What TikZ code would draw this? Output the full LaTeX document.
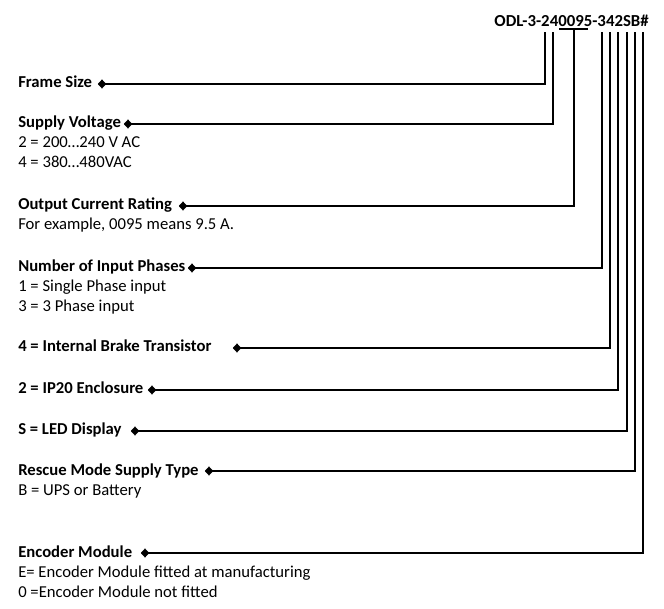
\documentclass[tikz,border=0pt]{standalone}
\usepackage{fontspec}
\setmainfont{Carlito}
\usetikzlibrary{shapes.geometric}
\tikzset{
  lbl/.style={anchor=base west, inner sep=0pt, font=\fontsize{12.5}{15}\selectfont\bfseries},
  txt/.style={anchor=base west, inner sep=0pt, font=\fontsize{12.5}{15}\selectfont},
  code/.style={anchor=base east, inner sep=0pt, font=\fontsize{12.6}{15}\selectfont\bfseries},
  dot/.style={diamond, fill=black, inner sep=0pt, minimum width=6.5pt, minimum height=7pt},
  lead/.style={draw=black, line width=0.8pt},
}
\begin{document}
\begin{tikzpicture}[x=0.75pt, y=-0.75pt]
\useasboundingbox (0,0) rectangle (664,609);
% code
\node[code] (code) at (649,27) {ODL-3-240095-342SB\#};
% tops of leaders
\coordinate (t1) at (545,32);
\coordinate (t2) at (553,32);
\coordinate (t3) at (574,29);
\coordinate (t4) at (602,32);
\coordinate (t5) at (610,32);
\coordinate (t6) at (618,32);
\coordinate (t7) at (627,32);
\coordinate (t8) at (635,32);
\coordinate (t9) at (643,32);
\coordinate (u1) at (559,29);
\coordinate (u2) at (588,29);
\draw[lead] (u1) -- (u2);
% labels
\node[lbl] (l1) at (18,88) {Frame Size};
\node[lbl] (l2) at (18,128) {Supply Voltage};
\node[txt] (l2a) at (18,148) {2 = 200…240 V AC};
\node[txt] (l2b) at (18,168) {4 = 380…480VAC};
\node[lbl] (l3) at (18,210) {Output Current Rating};
\node[txt] (l3a) at (18,230) {For example, 0095 means 9.5 A.};
\node[lbl] (l4) at (18,272) {Number of Input Phases};
\node[txt] (l4a) at (18,292) {1 = Single Phase input};
\node[txt] (l4b) at (18,312) {3 = 3 Phase input};
\node[lbl] (l5) at (18,352) {4 = Internal Brake Transistor};
\node[lbl] (l6) at (18,394) {2 = IP20 Enclosure};
\node[lbl] (l7) at (18,435) {S = LED Display};
\node[lbl] (l8) at (18,475) {Rescue Mode Supply Type};
\node[txt] (l8a) at (18,495) {B = UPS or Battery};
\node[lbl] (l9) at (18,557) {Encoder Module};
\node[txt] (l9a) at (18,577) {E= Encoder Module fitted at manufacturing};
\node[txt] (l9b) at (18,597) {0 =Encoder Module not fitted};
% diamonds
\node[dot] (d1) at (102,84) {};
\node[dot] (d2) at (128,124) {};
\node[dot] (d3) at (183,206) {};
\node[dot] (d4) at (192,268) {};
\node[dot] (d5) at (237,348) {};
\node[dot] (d6) at (152,390) {};
\node[dot] (d7) at (135,431) {};
\node[dot] (d8) at (209,471) {};
\node[dot] (d9) at (145,553) {};
% leaders
\foreach \i in {1,...,9}{
  \draw[lead] (d\i.center) -- (d\i -| t\i) -- (t\i);
}
\end{tikzpicture}
\end{document}
